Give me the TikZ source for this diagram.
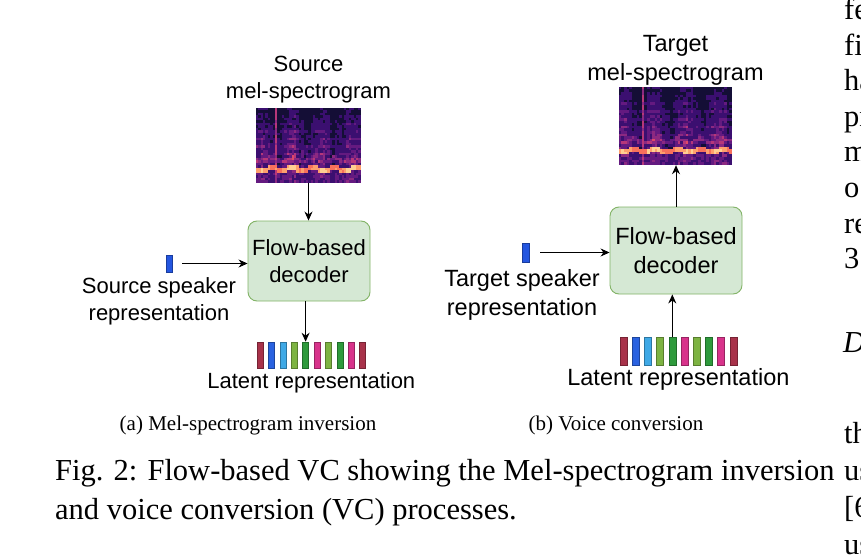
\documentclass[tikz,border=0pt]{standalone}
\usepackage{fontspec}
\setmainfont{Liberation Serif}
\newfontfamily\diagfont{Liberation Sans}
\usepackage{xcolor}
\usepackage{tikz}
\usetikzlibrary{positioning,arrows.meta,fit}
\definecolor{flowfill}{HTML}{D5E8D4}
\definecolor{flowline}{HTML}{82B366}
\definecolor{spkblue}{HTML}{2456E0}
\definecolor{latred}{HTML}{A8324A}
\definecolor{latblue}{HTML}{2A62E0}
\definecolor{latcyan}{HTML}{3FA9E6}
\definecolor{latlime}{HTML}{7DB342}
\definecolor{latgreen}{HTML}{2E9A3C}
\definecolor{latpink}{HTML}{D8338B}
% magma colours for the spectrograms
\definecolor{magma0}{HTML}{000004}
\definecolor{magma1}{HTML}{140E36}
\definecolor{magma2}{HTML}{3B0F70}
\definecolor{magma3}{HTML}{641A80}
\definecolor{magma4}{HTML}{8C2981}
\definecolor{magma5}{HTML}{B73779}
\definecolor{magma6}{HTML}{DE4968}
\definecolor{magma7}{HTML}{F7705C}
\definecolor{magma8}{HTML}{FE9F6D}
\definecolor{magma9}{HTML}{FECF92}
\definecolor{magma10}{HTML}{FCFDBF}

% #1 width, #2 height, #3 seed, #4 loud column, #5 phase
\newcommand{\melspec}[5]{%
  \pgfmathsetseed{#3}
  \foreach \c in {0,...,43}{
    \pgfmathsetmacro{\act}{min(1,0.7*(0.55+0.45*sin(\c*29+#5))+0.35*rnd)}
    \pgfmathsetmacro{\fb}{0.83+0.025*sin(\c*41+#5)}
    \foreach \r in {0,...,29}{
      \pgfmathsetmacro{\f}{\r/29}
      \pgfmathsetmacro{\v}{abs(\f-\fb)<0.035 ? 0.6+0.28*\act+0.05*rnd : (\f>\fb ? 0.2+0.22*\act*rnd : (abs(\f-\fb+0.13)<0.03 ? 0.3+0.3*\act*rnd : 0.1+\act*(0.08+0.45*\f)*(0.4+0.9*rnd)*(mod(\r,3)==0 ? 1 : 0.65)))}
      \pgfmathsetmacro{\v}{\c==#4 ? max(\v,0.42+0.08*rnd) : \v}
      \pgfmathtruncatemacro{\lv}{min(10,max(0,round(10*\v)))}
      \fill[magma\lv] ({\c*#1/44},{\r*#2/30}) rectangle ++({#1/44+0.3},{#2/30+0.3});
    }
  }
}

\begin{document}
\begin{tikzpicture}[x=1pt,y=-1pt,
		lblA/.style={font=\diagfont\fontsize{22}{27}\selectfont, align=center, inner sep=0pt},
		lblB/.style={font=\diagfont\fontsize{23.5}{29}\selectfont, align=center, inner sep=0pt},
		flow/.style={draw=flowline, fill=flowfill, rounded corners=9pt, line width=0.9pt},
		spk/.style={draw=spkblue!70!black, fill=spkblue, inner sep=0pt, line width=0.5pt},
		bar/.style={draw=#1!70!black, fill=#1, inner sep=0pt, line width=0.6pt},
		specbox/.style={inner sep=0pt},
		arr/.style={-{Stealth[length=9pt,width=8pt]}, line width=1pt},
		figcap/.style={font=\fontsize{30.5}{35}\selectfont, inner sep=0pt, anchor=base west},
		subcap/.style={font=\fontsize{21}{25}\selectfont, inner sep=0pt}
		]
		
		\fill[white] (0,0) rectangle (861,556);
		\useasboundingbox (0,0) rectangle (861,556);
		
		% ===== (a) mel-spectrogram inversion =====
		\node[specbox, minimum width=105pt, minimum height=75pt] (specA) at (308.5,145.5) {};
		\begin{scope}[shift={(specA.north west)}]
			\melspec{105}{75}{11}{8}{17}
		\end{scope}
		\node[lblA, above=5pt of specA] (titA) {Source\\mel-spectrogram};
		\node[flow, lblA, minimum width=122pt, minimum height=80pt] (decA) at (309,261) {Flow-based\\decoder};
		\node[spk, minimum width=6pt, minimum height=17pt] (spkA) at (169,263.5) {};
		\node[lblA, below=5pt of spkA, xshift=-10pt] (spkAlbl) {Source speaker\\representation};
		\foreach \c [count=\i from 1] in {latred,latblue,latcyan,latlime,latgreen,latpink,latlime,latgreen,latpink,latred}{
			\node[bar=\c, minimum width=6pt, minimum height=26pt] (LA\i) at ({260+(\i-1)*11.4},355) {};
		}
		\node[fit=(LA1)(LA10), inner sep=0pt] (latA) {};
		\node[lblA, below=4pt of latA] (latAlbl) {Latent representation};
		
		\draw[arr] (specA.south) -- (specA.south |- decA.north);
		\draw[arr, shorten <=10pt] (spkA.east) -- (spkA.east -| decA.west);
		\draw[arr] (decA.south -| LA5) -- (LA5.north);
		
		% ===== (b) voice conversion =====
		\node[specbox, minimum width=113pt, minimum height=78pt] (specB) at (675.5,126) {};
		\begin{scope}[shift={(specB.north west)}]
			\melspec{113}{78}{5}{9}{60}
		\end{scope}
		\node[lblB, above=1pt of specB] (titB) {Target\\mel-spectrogram};
		\node[flow, lblB, minimum width=132pt, minimum height=87pt] (decB) at (676,250.5) {Flow-based\\decoder};
		\node[spk, minimum width=7pt, minimum height=19pt] (spkB) at (525.5,252.5) {};
		\node[lblB, below=7pt of spkB, xshift=-3.5pt] (spkBlbl) {Target speaker\\representation};
		\foreach \c [count=\i from 1] in {latred,latblue,latcyan,latlime,latgreen,latpink,latlime,latgreen,latpink,latred}{
			\node[bar=\c, minimum width=7pt, minimum height=28pt] (LB\i) at ({623.5+(\i-1)*12.2},351) {};
		}
		\node[fit=(LB1)(LB10), inner sep=0pt] (latB) {};
		\node[lblB, below=3pt of latB] (latBlbl) {Latent representation};
		
		\draw[arr] (LB5.north) -- (LB5.north |- decB.south);
		\draw[arr] (decB.north) -- (decB.north |- specB.south);
		\draw[arr, shorten <=11pt] (spkB.east) -- (spkB.east -| decB.west);
		
		% ===== captions =====
		\node[subcap] (subA) at (248,425) {(a) Mel-spectrogram inversion};
		\node[subcap] (subB) at (616,425) {(b) Voice conversion};
		\node[figcap] (capA) at (55,480) {Fig. 2: Flow-based VC showing the Mel-spectrogram inversion};
		\node[figcap] (capB) at (55,519) {and voice conversion (VC) processes.};
		
		% ===== next column, cut at the edge =====
		\foreach \t/\yy [count=\i from 1] in {fe/20,fi/55.5,ha/91,pr/126.5,m/162,o/197.5,re/233,3/268.5,th/443,us/480,{[6}/517,us/554}{
			\node[figcap] (col\i) at (844,\yy) {\t};
		}
		\node[figcap] (colD) at (843,352) {\itshape D};
		
\end{tikzpicture}
\end{document}
